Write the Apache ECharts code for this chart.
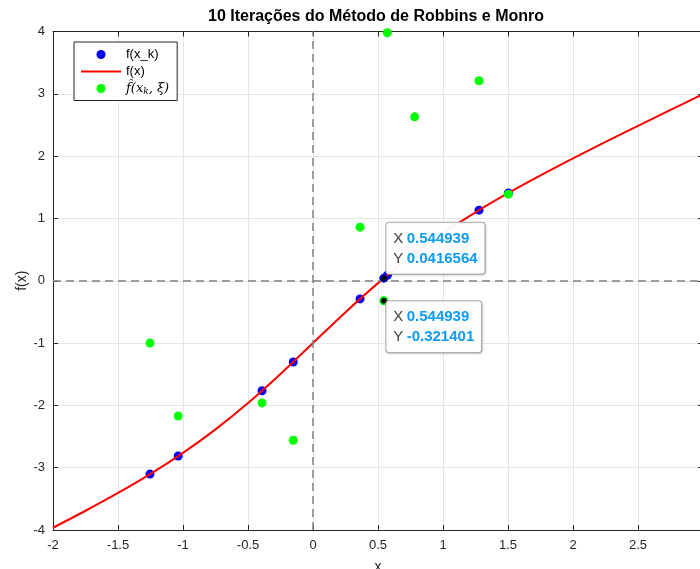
<!DOCTYPE html>
<html>
<head>
<meta charset="utf-8">
<script src="https://cdn.jsdelivr.net/npm/echarts@6/dist/echarts.min.js"></script>
<style>
html,body{margin:0;padding:0;background:#fff;}
#chart{width:700px;height:569px;}
</style>
</head>
<body>
<div id="chart"></div>
<script>
// ---- data ----
const curveX = [-2, -1.75, -1.5, -1.25, -1, -0.75, -0.5, -0.25, 0, 0.25, 0.5, 0.75, 1, 1.25, 1.5, 1.75, 2, 2.25, 2.5, 2.75, 3];
const curveY = [-3.964, -3.691, -3.405, -3.098, -2.762, -2.385, -1.962, -1.495, -1.0, -0.505, -0.038, 0.385, 0.762, 1.098, 1.405, 1.691, 1.964, 2.228, 2.487, 2.742, 2.995];

const iterX    = [-1.254, -1.037, -0.392, -0.152, 0.362, 0.545, 0.572, 0.782, 1.277, 1.503];
const iterFx   = [-3.103, -2.813, -1.765, -1.303, -0.291, 0.042, 0.089, 0.436, 1.133, 1.409];
const iterFhat = [-1.0, -2.17, -1.96, -2.56, 0.86, -0.321, 3.98, 2.63, 3.21, 1.39];

const tipX = [0.544939, 0.544939];
const tipY = [0.0416564, -0.321401];
const tipRing = ['#0000ff', '#00ff00'];

const xMin = -2, xMax = 3, xStep = 0.5;
const yMin = -4, yMax = 4, yStep = 1;

const titleText = '10 Iterações do Método de Robbins e Monro';
const nameBlue = 'f(x_k)', nameRed = 'f(x)', nameGreen = 'fhat';

// ---- chart ----
const FONT = 'Liberation Sans, Arial, Helvetica, sans-serif';
const chart = echarts.init(document.getElementById('chart'), null, {renderer: 'canvas'});

const zip = (a, b) => a.map((v, i) => [v, b[i]]);

const axisCommon = {
  axisLine: {show: true, onZero: false, lineStyle: {color: '#262626', width: 1}},
  axisTick: {show: true, inside: true, length: 5, lineStyle: {color: '#262626'}},
};

const option = {
  animation: false,
  backgroundColor: '#ffffff',
  title: {
    text: titleText,
    left: 203, top: 4,
    textStyle: {fontFamily: FONT, fontSize: 16, fontWeight: 'bold', color: '#000'}
  },
  grid: {left: 53, right: -3, top: 31.5, bottom: 39, containLabel: false, outerBoundsMode: 'none'},
  legend: {
    orient: 'vertical', left: 74, top: 42,
    padding: [6, 8, 4, 6], itemGap: 4,
    itemWidth: 40, itemHeight: 9,
    borderColor: '#262626', borderWidth: 1, backgroundColor: '#ffffff', borderRadius: 0,
    data: [
      {name: nameBlue, icon: 'circle'},
      {name: nameRed, itemStyle: {opacity: 0}},
      {name: nameGreen, icon: 'circle'}
    ],
    textStyle: {
      fontFamily: FONT, fontSize: 13, color: '#000',
      rich: {
        it: {fontFamily: 'DejaVu Serif, serif', fontStyle: 'italic', fontSize: 13, color: '#000'},
        sub: {fontFamily: 'DejaVu Serif, serif', fontStyle: 'italic', fontSize: 9, color: '#000', verticalAlign: 'bottom', padding: [7, 0, 0, 0]}
      }
    },
    formatter: function (n) {
      if (n === nameGreen) return '{it|f̂(x}{sub|k}{it|, ξ)}';
      return n;
    }
  },
  xAxis: [{
    type: 'value', min: xMin, max: xMax, interval: xStep, position: 'bottom',
    name: 'x', nameLocation: 'middle', nameGap: 30, nameMoveOverlap: false,
    nameTextStyle: {fontFamily: FONT, fontSize: 14, color: '#262626'},
    ...axisCommon,
    axisLabel: {fontFamily: FONT, fontSize: 13, color: '#262626', margin: 9,
      showMaxLabel: true, showMinLabel: true, hideOverlap: false,
      formatter: v => String(v)},
    splitLine: {show: true, lineStyle: {color: '#e6e6e6', width: 1}}
  }, {
    type: 'value', min: xMin, max: xMax, interval: xStep, position: 'top',
    ...axisCommon,
    axisLabel: {show: false}, splitLine: {show: false}
  }],
  yAxis: [{
    type: 'value', min: yMin, max: yMax, interval: yStep, position: 'left',
    name: 'f(x)', nameLocation: 'middle', nameGap: 24, nameRotate: 90, nameMoveOverlap: false,
    nameTextStyle: {fontFamily: FONT, fontSize: 14, color: '#262626'},
    ...axisCommon,
    axisLabel: {fontFamily: FONT, fontSize: 13, color: '#262626', margin: 8,
      showMaxLabel: true, showMinLabel: true},
    splitLine: {show: true, lineStyle: {color: '#e6e6e6', width: 1}}
  }, {
    type: 'value', min: yMin, max: yMax, interval: yStep, position: 'right',
    ...axisCommon,
    axisLabel: {show: false}, splitLine: {show: false}
  }],
  series: [
    {
      name: 'zero', type: 'line', data: [], z: 1, silent: true,
      markLine: {
        silent: true, symbol: 'none', label: {show: false},
        lineStyle: {color: '#808080', type: [8, 5], width: 1.5},
        data: [{xAxis: 0}, {yAxis: 0}]
      }
    },
    {
      name: nameBlue, type: 'scatter', data: zip(iterX, iterFx), z: 2,
      symbol: 'circle', symbolSize: 9, itemStyle: {color: '#0000ff', opacity: 1}
    },
    {
      name: nameRed, type: 'line', data: zip(curveX, curveY), z: 3,
      smooth: 0.3, symbol: 'none', showSymbol: false,
      lineStyle: {color: '#ff0000', width: 2}, itemStyle: {color: '#ff0000'}
    },
    {
      name: nameGreen, type: 'scatter', data: zip(iterX, iterFhat), z: 4,
      symbol: 'circle', symbolSize: 9, itemStyle: {color: '#00ff00', opacity: 1}
    },
    {
      name: 'tips', type: 'scatter', z: 10, symbol: 'circle', symbolSize: 7,
      data: tipX.map((x, i) => ({
        value: [x, tipY[i]],
        itemStyle: {color: '#000', borderColor: tipRing[i], borderWidth: 1, opacity: 1},
        label: {
          show: true,
          position: i === 0 ? [6.5, -0.5] : [6.5, 4.5],
          align: 'left',
          verticalAlign: i === 0 ? 'bottom' : 'top',
          formatter: '{k|X} {v|' + String(x) + '}\n{k|Y} {v|' + String(tipY[i]) + '}',
          backgroundColor: 'rgba(255,255,255,0.95)',
          borderColor: '#a6a6a6', borderWidth: 1, borderRadius: 3,
          padding: [6, 7, 5, 7],
          shadowColor: 'rgba(0,0,0,0.12)', shadowBlur: 2, shadowOffsetX: 1, shadowOffsetY: 1,
          rich: {
            k: {fontFamily: FONT, fontSize: 15, color: '#404040', lineHeight: 20},
            v: {fontFamily: FONT, fontSize: 15, fontWeight: 'bold', color: '#0d9bf5', lineHeight: 20}
          }
        }
      }))
    }
  ]
};
chart.setOption(option);
</script>
</body>
</html>
